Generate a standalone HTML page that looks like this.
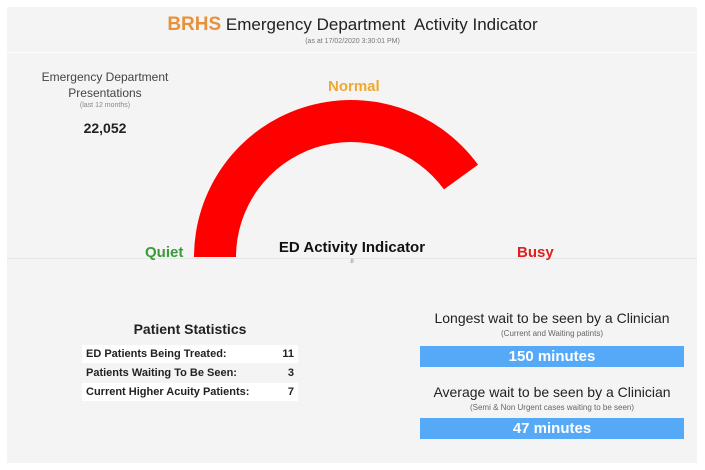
<!DOCTYPE html>
<html><head><meta charset="utf-8"><style>
body{margin:0;width:705px;height:470px;background:#fff;font-family:"Liberation Sans",sans-serif;position:relative;overflow:hidden}
.p{position:absolute;background:#f4f4f4}
.t{position:absolute;white-space:nowrap}
.c{text-align:center}
.bar{position:absolute;left:420px;width:264px;height:21px;background:#56a9f6;color:#fff;font-weight:bold;font-size:15px;text-align:center;line-height:21px}
.row{position:absolute;left:82px;width:216px;height:18px;font-size:11px;font-weight:bold;color:#222;line-height:18px}
.row span{position:absolute}
</style></head><body>
<div class="p" style="left:7px;top:7px;width:690px;height:45px"></div>
<div class="p" style="left:7px;top:53px;width:690px;height:410px"></div>
<div class="t c" style="left:0;width:705px;top:14px;font-size:17px;color:#222"><span style="color:#e8903a;font-weight:bold;font-size:19px">BRHS</span> Emergency Department&nbsp; Activity Indicator</div>
<div class="t c" style="left:0;width:705px;top:38px;font-size:7px;color:#777">(as at 17/02/2020 3:30:01 PM)</div>
<div class="t c" style="left:20px;width:170px;top:69px;font-size:12px;color:#444;line-height:16px">Emergency Department<br>Presentations</div>
<div class="t c" style="left:20px;width:170px;top:102px;font-size:7px;color:#888">(last 12 months)</div>
<div class="t c" style="left:20px;width:170px;top:120px;font-size:14px;font-weight:bold;color:#222">22,052</div>
<div style="position:absolute;left:7px;top:258px;width:690px;height:1px;background:#e6e6e6"></div>
<svg style="position:absolute;left:0;top:0" width="705" height="470"><path d="M194,257 A157 157 0 0 1 478,164.7 L444,189.4 A115 115 0 0 0 236,257 Z" fill="#ff0000"/></svg>
<div class="t" style="left:328px;top:78px;font-size:15px;font-weight:bold;color:#f0a830">Normal</div>
<div class="t" style="left:145px;top:244px;font-size:15px;font-weight:bold;color:#3a9a3a">Quiet</div>
<div class="t" style="left:517px;top:244px;font-size:15px;font-weight:bold;color:#e02020">Busy</div>
<div class="t c" style="left:252px;width:200px;top:239px;font-size:15px;font-weight:bold;color:#111">ED Activity Indicator</div>
<div class="t c" style="left:252px;width:200px;top:259px;font-size:6px;color:#888">8</div>
<div class="t c" style="left:82px;width:216px;top:321px;font-size:14px;font-weight:bold;color:#222">Patient Statistics</div>
<div class="row" style="top:345px;background:#fff"><span style="left:4px">ED Patients Being Treated:</span><span style="right:4px">11</span></div>
<div class="row" style="top:364px"><span style="left:4px">Patients Waiting To Be Seen:</span><span style="right:4px">3</span></div>
<div class="row" style="top:383px;background:#fff"><span style="left:4px">Current Higher Acuity Patients:</span><span style="right:4px">7</span></div>
<div class="t c" style="left:410px;width:284px;top:310px;font-size:14px;color:#222">Longest wait to be seen by a Clinician</div>
<div class="t c" style="left:410px;width:284px;top:329px;font-size:8px;color:#666">(Current and Waiting patints)</div>
<div class="bar" style="top:346px">150 minutes</div>
<div class="t c" style="left:410px;width:284px;top:384px;font-size:14px;color:#222">Average wait to be seen by a Clinician</div>
<div class="t c" style="left:410px;width:284px;top:403px;font-size:8px;color:#666">(Semi &amp; Non Urgent cases waiting to be seen)</div>
<div class="bar" style="top:418px">47 minutes</div>
</body></html>
